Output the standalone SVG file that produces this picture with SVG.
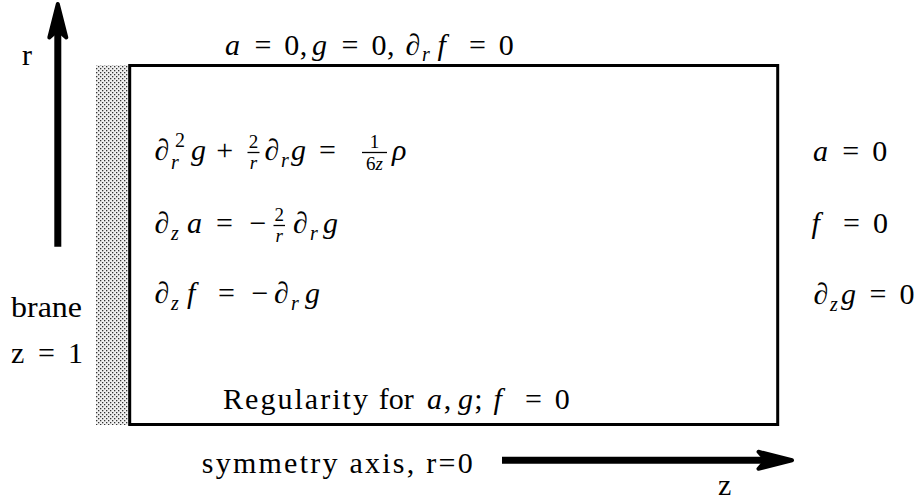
<svg xmlns="http://www.w3.org/2000/svg" width="924" height="502" viewBox="0 0 924 502" style="font-family:'Liberation Serif',serif">
<style>
svg text, svg tspan, text, tspan { font-family: "Liberation Serif", "Times New Roman", serif !important; }
</style>
<defs>
<pattern id="dots" patternUnits="userSpaceOnUse" width="4" height="4">
<rect width="4" height="4" fill="#f0f0f0"/>
<rect x="0" y="0" width="1.3" height="1.3" fill="#333"/>
<rect x="2" y="2" width="1.3" height="1.3" fill="#333"/>
</pattern>
<marker id="head" markerUnits="userSpaceOnUse" markerWidth="46" markerHeight="30" viewBox="0 0 46 30" refX="12" refY="15" orient="auto">
<path d="M38,15 L4.5,6.5 L12,15 L4.5,23.5 Z" fill="#000" stroke="#000" stroke-width="4" stroke-linejoin="round"/>
</marker>
</defs>

<g id="brane">
<rect x="96" y="65" width="32.5" height="360" fill="url(#dots)"/>
</g>

<g id="domain">
<rect x="129.7" y="65.5" width="648" height="359" fill="none" stroke="#000" stroke-width="3"/>
</g>

<g id="connectors" stroke="#000" stroke-width="7" fill="none">
<line x1="57.8" y1="246.7" x2="57.8" y2="30" marker-end="url(#head)"/>
<line x1="502" y1="460.3" x2="766" y2="460.3" marker-end="url(#head)"/>
</g>

<g id="label-r"><text font-family="Liberation Serif" font-size="30" x="22" y="65">r</text></g>
<g id="label-z"><text font-family="Liberation Serif" font-size="30" x="718" y="495">z</text></g>
<g id="label-brane">
<text font-family="Liberation Serif" font-size="30" x="11" y="316.5" textLength="71" lengthAdjust="spacingAndGlyphs">brane</text>
<text font-family="Liberation Serif" font-size="30" y="363"><tspan x="11">z</tspan><tspan x="38">=</tspan><tspan x="68">1</tspan></text>
</g>
<g id="label-axis"><text font-family="Liberation Serif" font-size="30" x="201.7" y="473" textLength="271" lengthAdjust="spacing">symmetry axis, r=0</text></g>

<g id="bc-top">
<text font-family="Liberation Serif" font-size="30" y="55"><tspan font-style="italic" x="225">a</tspan><tspan x="254.5">=</tspan><tspan x="284.3">0</tspan><tspan x="299.7">,</tspan><tspan font-style="italic" x="312">g</tspan><tspan x="341.5">=</tspan><tspan x="371.5">0</tspan><tspan x="387">,</tspan><tspan font-style="italic" x="405.5">∂</tspan><tspan font-style="italic" font-size="20" x="422" y="61">r</tspan><tspan font-style="italic" x="437.4" y="55">f</tspan><tspan x="469">=</tspan><tspan x="498.8">0</tspan></text>
</g>

<g id="eq-1">
<text font-family="Liberation Serif" font-size="30" font-style="italic" y="160"><tspan x="154.5">∂</tspan><tspan font-style="normal" font-size="20" x="175" y="147">2</tspan><tspan font-size="20" x="171" y="168.5">r</tspan><tspan x="191" y="160">g</tspan><tspan font-style="normal" x="216.3">+</tspan></text>
<text font-family="Liberation Serif" font-size="19" text-anchor="middle"><tspan x="253.5" y="148">2</tspan><tspan x="253.5" y="169" font-style="italic">r</tspan></text>
<line x1="247.5" y1="152.5" x2="259.5" y2="152.5" stroke="#000" stroke-width="1.3"/>
<text font-family="Liberation Serif" font-size="30" font-style="italic" y="160"><tspan x="264.5">∂</tspan><tspan font-size="20" x="281" y="167">r</tspan><tspan x="291" y="160">g</tspan><tspan font-style="normal" x="318.9">=</tspan></text>
<text font-family="Liberation Serif" font-size="19" text-anchor="middle"><tspan x="374.5" y="148">1</tspan><tspan x="374.5" y="170">6<tspan font-style="italic">z</tspan></tspan></text>
<line x1="362" y1="152.5" x2="387" y2="152.5" stroke="#000" stroke-width="1.3"/>
<text font-family="Liberation Serif" font-size="30" font-style="italic" x="392" y="160">ρ</text>
</g>

<g id="eq-2">
<text font-family="Liberation Serif" font-size="30" font-style="italic" y="233"><tspan x="154.5">∂</tspan><tspan font-size="20" x="171" y="240">z</tspan><tspan x="187" y="233">a</tspan><tspan font-style="normal" x="216">=</tspan><tspan font-style="normal" x="249.5">−</tspan></text>
<text font-family="Liberation Serif" font-size="19" text-anchor="middle"><tspan x="279.3" y="221">2</tspan><tspan x="279.3" y="242" font-style="italic">r</tspan></text>
<line x1="273.5" y1="225.5" x2="285" y2="225.5" stroke="#000" stroke-width="1.3"/>
<text font-family="Liberation Serif" font-size="30" font-style="italic" y="233"><tspan x="293">∂</tspan><tspan font-size="20" x="310" y="240">r</tspan><tspan x="323" y="233">g</tspan></text>
</g>

<g id="eq-3">
<text font-family="Liberation Serif" font-size="30" font-style="italic" y="303"><tspan x="154.5">∂</tspan><tspan font-size="20" x="171" y="310">z</tspan><tspan x="187" y="303">f</tspan><tspan font-style="normal" x="218">=</tspan><tspan font-style="normal" x="251.5">−</tspan><tspan x="274">∂</tspan><tspan font-size="20" x="291" y="310">r</tspan><tspan x="305" y="303">g</tspan></text>
</g>

<g id="bc-right">
<text font-family="Liberation Serif" font-size="30" y="161"><tspan font-style="italic" x="813">a</tspan><tspan x="842.3">=</tspan><tspan x="872.3">0</tspan></text>
<text font-family="Liberation Serif" font-size="30" y="233"><tspan font-style="italic" x="811.5">f</tspan><tspan x="843">=</tspan><tspan x="873">0</tspan></text>
<text font-family="Liberation Serif" font-size="30" y="304"><tspan font-style="italic" x="813.5">∂</tspan><tspan font-style="italic" font-size="20" x="830" y="311">z</tspan><tspan font-style="italic" x="841" y="304">g</tspan><tspan x="869.5">=</tspan><tspan x="899.5">0</tspan></text>
</g>

<g id="bc-bottom">
<text font-family="Liberation Serif" font-size="30" y="409"><tspan x="223" textLength="145" lengthAdjust="spacing">Regularity</tspan><tspan x="378.7">for</tspan><tspan font-style="italic" x="427">a</tspan><tspan x="443.8">,</tspan><tspan font-style="italic" x="458">g</tspan><tspan x="474.2">;</tspan><tspan font-style="italic" x="493.6">f</tspan><tspan x="525">=</tspan><tspan x="554.7">0</tspan></text>
</g>
</svg>
